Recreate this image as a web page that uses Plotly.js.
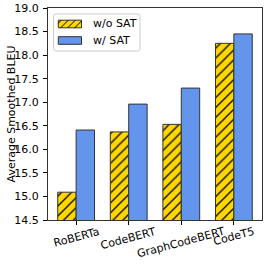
<!DOCTYPE html>
<html>
<head>
<meta charset="utf-8">
<script src="https://cdn.plot.ly/plotly-3.0.1.min.js"></script>
<style>html,body{margin:0;padding:0;background:#fff;}#chart{width:266px;height:272px;}</style>
</head>
<body>
<div id="chart"></div>
<script>
const categories = ["RoBERTa", "CodeBERT", "GraphCodeBERT", "CodeT5"];
const withoutSAT = [15.09, 16.37, 16.53, 18.25];
const withSAT = [16.41, 16.96, 17.30, 18.45];
const seriesNames = ["w/o SAT", "w/ SAT"];
const seriesColors = ["#FFD700", "#6495ED"];
const yTickVals = [14.5, 15.0, 15.5, 16.0, 16.5, 17.0, 17.5, 18.0, 18.5, 19.0];
const yTitle = "Average Smoothed BLEU";

const FONT = "DejaVu Sans, sans-serif";
const idx = categories.map((c, i) => i);

// plot-area geometry (px) used only to place the hand-drawn legend and titles
const W = 266, H = 272, M = {l: 48, r: 4, t: 8, b: 52};
const PW = W - M.l - M.r, PH = H - M.t - M.b;
const px = v => (v - M.l) / PW;
const py = v => (H - M.b - v) / PH;

const traces = [
  {
    type: "bar", name: seriesNames[0], x: idx, y: withoutSAT, showlegend: false,
    marker: {
      color: seriesColors[0],
      line: {color: "#333333", width: 1},
      pattern: {shape: "/", fgcolor: "#000000", bgcolor: seriesColors[0], size: 7, solidity: 0.18}
    }
  },
  {
    type: "bar", name: seriesNames[1], x: idx, y: withSAT, showlegend: false,
    marker: {color: seriesColors[1], line: {color: "#333333", width: 1}}
  }
];

const annotations = categories.map((c, i) => ({
  x: i, xref: "x", y: -0.012, yref: "paper",
  text: c, showarrow: false, textangle: -15,
  xanchor: "center", yanchor: "top",
  font: {family: FONT, size: 11, color: "#000"}
}));

annotations.push({
  x: px(10.5), xref: "paper", y: 0.5, yref: "paper",
  text: yTitle, showarrow: false, textangle: -90,
  xanchor: "center", yanchor: "middle",
  font: {family: FONT, size: 11, color: "#000"}
});

// legend (drawn with shapes + annotations)
const shapes = [];
const lb = {x0: 53.5, x1: 140, y0: 14, y1: 51, r: 2.5};
shapes.push({
  type: "path", xref: "paper", yref: "paper", layer: "above",
  path: `M${px(lb.x0 + lb.r)},${py(lb.y0)} L${px(lb.x1 - lb.r)},${py(lb.y0)} Q${px(lb.x1)},${py(lb.y0)} ${px(lb.x1)},${py(lb.y0 + lb.r)} ` +
        `L${px(lb.x1)},${py(lb.y1 - lb.r)} Q${px(lb.x1)},${py(lb.y1)} ${px(lb.x1 - lb.r)},${py(lb.y1)} ` +
        `L${px(lb.x0 + lb.r)},${py(lb.y1)} Q${px(lb.x0)},${py(lb.y1)} ${px(lb.x0)},${py(lb.y1 - lb.r)} ` +
        `L${px(lb.x0)},${py(lb.y0 + lb.r)} Q${px(lb.x0)},${py(lb.y0)} ${px(lb.x0 + lb.r)},${py(lb.y0)} Z`,
  fillcolor: "rgba(255,255,255,0.8)", line: {color: "#cccccc", width: 1}
});
const rows = [{yc: 24, hatch: true}, {yc: 40.5, hatch: false}];
rows.forEach((r, k) => {
  const sx0 = 58.3, sx1 = 81.5, sy0 = r.yc - 3.8, sy1 = r.yc + 3.8;
  shapes.push({
    type: "rect", xref: "paper", yref: "paper", layer: "above",
    x0: px(sx0), x1: px(sx1), y0: py(sy1), y1: py(sy0),
    fillcolor: seriesColors[k], line: {color: "#333333", width: 1}
  });
  if (r.hatch) {
    for (let c = sx0 + sy0 + 3; c < sx1 + sy1; c += 7) {
      const xa = Math.max(sx0, c - sy1), xb = Math.min(sx1, c - sy0);
      if (xb <= xa) continue;
      shapes.push({
        type: "line", xref: "paper", yref: "paper", layer: "above",
        x0: px(xa), y0: py(c - xa), x1: px(xb), y1: py(c - xb),
        line: {color: "#000", width: 1}
      });
    }
  }
  annotations.push({
    x: px(90.5), xref: "paper", y: py(r.yc), yref: "paper",
    text: seriesNames[k], showarrow: false, xanchor: "left", yanchor: "middle",
    font: {family: FONT, size: 11, color: "#000"}
  });
});

const layout = {
  width: W, height: H,
  margin: M,
  paper_bgcolor: "#fff", plot_bgcolor: "#fff",
  font: {family: FONT, size: 11, color: "#000"},
  barmode: "group", bargap: 0.3, bargroupgap: 0,
  showlegend: false,
  xaxis: {
    range: [-0.535, 3.535],
    tickvals: idx, ticktext: categories.map(() => ""),
    ticks: "outside", ticklen: 4, tickcolor: "#000",
    showline: true, linecolor: "#333", linewidth: 1, mirror: true,
    showgrid: false, zeroline: false, fixedrange: true
  },
  yaxis: {
    range: [14.5, 19.0],
    tickvals: yTickVals, tickformat: ".1f",
    ticks: "outside", ticklen: 4, tickcolor: "#000",
    ticklabelstandoff: 2,
    showline: true, linecolor: "#333", linewidth: 1, mirror: true,
    showgrid: false, zeroline: false
  },
  shapes: shapes,
  annotations: annotations
};

Plotly.newPlot("chart", traces, layout, {displayModeBar: false, staticPlot: true});
</script>
</body>
</html>
